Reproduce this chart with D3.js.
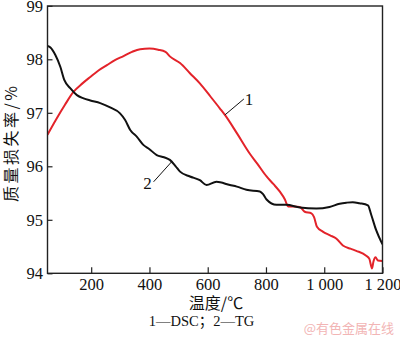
<!DOCTYPE html>
<html>
<head>
<meta charset="utf-8">
<script src="https://cdn.jsdelivr.net/npm/d3@7/dist/d3.min.js"></script>
<style>
  html, body { margin: 0; padding: 0; background: #fff; }
  svg { display: block; }
  .serif { font-family: "Liberation Serif", "Times New Roman", "Noto Sans CJK SC", serif; }
  .cjk { font-family: "Noto Sans CJK SC", "Liberation Serif", sans-serif; }
</style>
</head>
<body>
<svg id="chart" width="400" height="337"></svg>
<script>
// Temperature (°C) and mass-loss readings for the DSC curve (1)
const dscTemp = [50, 80, 110, 139, 170, 197, 225, 254, 280, 311, 340, 368, 400, 430, 455, 471, 505, 539, 573, 610, 642, 659, 700, 744, 770, 802, 825, 847, 865, 876, 895, 916, 933, 956, 965, 975, 995, 1020, 1041, 1064, 1090, 1110, 1144, 1155, 1164, 1169, 1176, 1184, 1200];
const dscValue = [96.59, 96.88, 97.15, 97.39, 97.55, 97.67, 97.79, 97.89, 97.98, 98.06, 98.14, 98.19, 98.20, 98.18, 98.14, 98.05, 97.93, 97.74, 97.55, 97.30, 97.08, 96.96, 96.62, 96.24, 96.05, 95.81, 95.67, 95.53, 95.38, 95.25, 95.25, 95.24, 95.15, 95.12, 95.05, 94.87, 94.78, 94.71, 94.65, 94.52, 94.46, 94.42, 94.33, 94.27, 94.09, 94.22, 94.30, 94.24, 94.23];

// Temperature (°C) and mass-loss readings for the TG curve (2)
const tgTemp = [50, 60, 77, 94, 108, 128, 151, 174, 197, 231, 265, 299, 316, 334, 357, 379, 400, 425, 450, 470, 490, 505, 539, 573, 596, 630, 676, 700, 733, 779, 790, 802, 836, 870, 916, 973, 1018, 1053, 1076, 1098, 1121, 1150, 1161, 1178, 1200];
const tgValue = [98.25, 98.22, 98.08, 97.86, 97.61, 97.46, 97.33, 97.27, 97.23, 97.18, 97.10, 96.99, 96.87, 96.68, 96.55, 96.40, 96.32, 96.21, 96.17, 96.12, 96.00, 95.90, 95.81, 95.74, 95.65, 95.71, 95.65, 95.62, 95.56, 95.53, 95.48, 95.38, 95.28, 95.28, 95.23, 95.21, 95.24, 95.30, 95.32, 95.33, 95.31, 95.27, 95.10, 94.81, 94.54];

// Axis ticks
const xTicks = [200, 400, 600, 800, 1000, 1200];
const xTickLabels = ["200", "400", "600", "800", "1 000", "1 200"];
const yTicks = [94, 95, 96, 97, 98, 99];

// Curve labels: temperature where the leader line meets each curve
const curveLabels = ["1", "2"];
const curveLabelTemp = [659, 476];

const series = [
  { name: "DSC", temp: dscTemp, value: dscValue, color: "#e3232a" },
  { name: "TG", temp: tgTemp, value: tgValue, color: "#111111" }
];

const svg = d3.select("#chart");
const plotLeft = 47.5, plotRight = 382.5, plotTop = 6, plotBottom = 273.3;

const x = d3.scaleLinear().domain([50, 1200]).range([plotLeft, plotRight]);
const y = d3.scaleLinear().domain([94, 99]).range([plotBottom, 5.8]);

svg.append("defs").append("clipPath").attr("id", "plotClip")
  .append("rect").attr("x", plotLeft).attr("y", plotTop)
  .attr("width", plotRight - plotLeft).attr("height", plotBottom - plotTop);

// Curves
const line = d3.line()
  .x(d => x(d[0]))
  .y(d => y(d[1]))
  .curve(d3.curveMonotoneX);

const curveG = svg.append("g").attr("clip-path", "url(#plotClip)");
series.forEach(s => {
  const pts = s.temp.map((t, i) => [t, s.value[i]]);
  curveG.append("path")
    .datum(pts)
    .attr("d", line)
    .attr("fill", "none")
    .attr("stroke", s.color)
    .attr("stroke-width", 2)
    .attr("stroke-linejoin", "round");
});

// Frame
svg.append("rect")
  .attr("x", plotLeft).attr("y", plotTop)
  .attr("width", plotRight - plotLeft).attr("height", plotBottom - plotTop)
  .attr("fill", "none").attr("stroke", "#222").attr("stroke-width", 1.4);

// Axes with inward ticks
const xAxis = d3.axisBottom(x)
  .tickValues(xTicks)
  .tickFormat((d, i) => xTickLabels[i])
  .tickSizeInner(-6).tickSizeOuter(0).tickPadding(4.5);
const gx = svg.append("g").attr("transform", `translate(0,${plotBottom})`).call(xAxis);

const yAxis = d3.axisLeft(y)
  .tickValues(yTicks)
  .tickFormat(d3.format("d"))
  .tickSizeInner(-5).tickSizeOuter(0).tickPadding(4.5);
const gy = svg.append("g").attr("transform", `translate(${plotLeft},0)`).call(yAxis);

[gx, gy].forEach(g => {
  g.select(".domain").remove();
  g.selectAll(".tick line").attr("stroke", "#222").attr("stroke-width", 1.2);
  g.selectAll(".tick text")
    .attr("class", "serif")
    .attr("font-size", 16.5)
    .attr("fill", "#111");
});

// Curve labels with leader lines
function interp(s, t) {
  const i = d3.bisectLeft(s.temp, t);
  if (i <= 0) return s.value[0];
  if (i >= s.temp.length) return s.value[s.value.length - 1];
  const t0 = s.temp[i - 1], t1 = s.temp[i];
  const v0 = s.value[i - 1], v1 = s.value[i];
  return v0 + (v1 - v0) * (t - t0) / (t1 - t0);
}
const labelOffsets = [
  { lx: 19, ly: -16, tx: 24, ty: -10 },
  { lx: -18, ly: 20, tx: -24, ty: 27 }
];
series.forEach((s, i) => {
  const ax = x(curveLabelTemp[i]);
  const ay = y(interp(s, curveLabelTemp[i]));
  const o = labelOffsets[i];
  svg.append("line")
    .attr("x1", ax).attr("y1", ay)
    .attr("x2", ax + o.lx).attr("y2", ay + o.ly)
    .attr("stroke", "#111").attr("stroke-width", 1);
  svg.append("text")
    .attr("class", "serif")
    .attr("x", ax + o.tx).attr("y", ay + o.ty)
    .attr("text-anchor", "middle")
    .attr("font-size", 17)
    .attr("fill", "#111")
    .text(curveLabels[i]);
});

// Axis titles
svg.append("text")
  .attr("class", "cjk")
  .attr("x", 216).attr("y", 309)
  .attr("text-anchor", "middle")
  .attr("font-size", 16)
  .attr("fill", "#111")
  .text("温度/℃");

svg.append("text")
  .attr("class", "cjk")
  .attr("transform", "translate(16.5,144) rotate(-90)")
  .attr("text-anchor", "middle")
  .attr("font-size", 16)
  .attr("textLength", 116)
  .attr("lengthAdjust", "spacing")
  .attr("fill", "#111")
  .text("质量损失率/%");

// Legend caption
svg.append("text")
  .attr("class", "serif")
  .attr("x", 201.5).attr("y", 326)
  .attr("text-anchor", "middle")
  .attr("font-size", 14.5)
  .attr("fill", "#111")
  .text("1—DSC；2—TG");

// Source mark
svg.append("text")
  .attr("class", "cjk")
  .attr("x", 394).attr("y", 333)
  .attr("text-anchor", "end")
  .attr("font-size", 13)
  .attr("fill", "#f2b5b5")
  .text("@有色金属在线");
</script>
</body>
</html>
